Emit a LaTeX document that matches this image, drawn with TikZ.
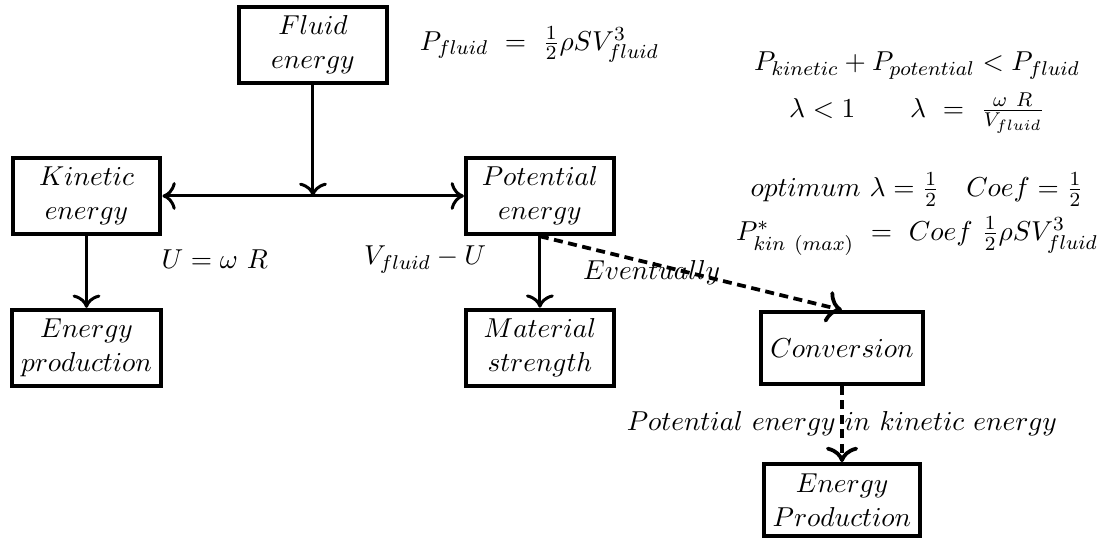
\documentclass[tikz,border=0pt,11pt]{standalone}
\usepackage{amsmath}
\usetikzlibrary{positioning, arrows.meta, calc}

\begin{document}
\begin{tikzpicture}[
    % Node styles
    block/.style={
        rectangle, draw, line width=1.6pt,
        minimum width=2.08cm, minimum height=1.01cm,
        align=center
    },
    % Edge styles
    flow/.style={
        ->, >={To[scale=1.25]}, line width=1.2pt
    },
    maybeflow/.style={
        ->, >={To[scale=1.25]}, line width=1.5pt, dash pattern=on 3.6pt off 2.2pt
    },
    % Label styles
    formula/.style={
        align=center
    }
]
\useasboundingbox (0,0) rectangle (15.45,7.59);

% ============ SOURCE ============
\node[block] (fluid) at (4.40, 6.96) {$Fluid$\\$energy$};
\node[formula, right=0.3cm of fluid] (pfluid) {$P_{fluid}\ =\ \frac{1}{2}\rho S V_{fluid}^3$};

% ============ SPLIT ============
\node[block] (kinetic) at (1.216, 4.835) {$Kinetic$\\$energy$};
\node[block] (potential) at (7.59, 4.835) {$Potential$\\$energy$};
\coordinate (split) at (fluid |- kinetic);

\node (uspeed) at (3.02, 3.94) {$U = \omega\ R$};
\node (vrel) at (5.975, 3.94) {$V_{fluid} - U$};

% ============ OUTPUTS ============
\node[block] (prodK) at (1.216, 2.698) {$Energy$\\$production$};
\node[block] (material) at (7.59, 2.698) {$Material$\\$strength$};
\node[block] (conversion) at (11.837, 2.698) {$Conversion$};
\node[block] (prodC) at (11.837, 0.561) {$Energy$\\$Production$};

% ============ EDGES ============
\draw[flow] (fluid) -- (split);
\draw[flow, <->] (kinetic) -- (potential);
\draw[flow] (kinetic) -- (prodK);
\draw[flow] (potential) -- (material);
\draw[maybeflow] (potential.south) -- node[pos=0.37, yshift=-3.6pt] (eventually) {$Eventually$} (conversion.north);
\draw[maybeflow] (conversion) -- node[midway] (convnote) {$Potential\ energy\ in\ kinetic\ energy$} (prodC);

% ============ ANNOTATIONS ============
\node[formula] (balance) at (12.89, 6.29) {
    $P_{kinetic} + P_{potential} < P_{fluid}$\\[5pt]
    $\lambda < 1 \qquad \lambda\ =\ \frac{\omega\ R}{V_{fluid}}$
};
\node[formula] (optimum) at (12.89, 4.58) {
    $optimum\ \lambda = \frac{1}{2} \quad Coef = \frac{1}{2}$\\[4pt]
    $P^*_{kin\ (max)}\ =\ Coef\ \frac{1}{2}\rho S V_{fluid}^3$
};

\end{tikzpicture}
\end{document}
